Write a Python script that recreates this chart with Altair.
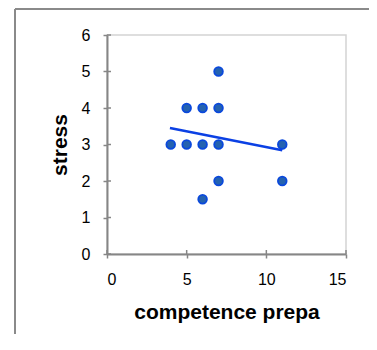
import altair as alt
import pandas as pd

# data
competence = [4, 5, 5, 6, 6, 6, 7, 7, 7, 7, 11, 11]
stress = [3, 4, 3, 4, 3, 1.5, 5, 4, 3, 2, 3, 2]

trend_x = [3.95, 11.0]
trend_y = [3.45, 2.84]

x_ticks = [0, 5, 10, 15]
y_ticks = [0, 1, 2, 3, 4, 5, 6]

W, H = 239, 219
PB = 80
PR = 23

pts = pd.DataFrame({"competence prepa": competence, "stress": stress})
trend = pd.DataFrame({"competence prepa": trend_x, "stress": trend_y})
xt = pd.DataFrame({"competence prepa": x_ticks})
yt = pd.DataFrame({"stress": y_ticks})

xscale = alt.Scale(domain=[0, 15], nice=False, zero=False)
yscale = alt.Scale(domain=[0, 6], nice=False, zero=False)
xaxis = alt.Axis(values=x_ticks, title="competence prepa")
yaxis = alt.Axis(values=y_ticks, title="stress")
XE = alt.X("competence prepa:Q", scale=xscale, axis=xaxis)
YE = alt.Y("stress:Q", scale=yscale, axis=yaxis)

FONT = "Liberation Sans"

one = pd.DataFrame({"a": [0]})
frame_left = alt.Chart(one).mark_rule(color="#8a8a8a", strokeWidth=2, clip=False).encode(
    x=alt.value(-92), y=alt.value(-26), y2=alt.value(H + PB)
)
frame_top = alt.Chart(one).mark_rule(color="#8a8a8a", strokeWidth=2, clip=False).encode(
    y=alt.value(-26), x=alt.value(-92), x2=alt.value(W + PR)
)

points = alt.Chart(pts).mark_point(
    filled=True, fill="#2462b0", stroke="#0a48dc", strokeWidth=1.8, size=75, opacity=1
).encode(x=XE, y=YE)

line = alt.Chart(trend).mark_line(color="#0b40e4", strokeWidth=2.5).encode(x=XE, y=YE)

xin = alt.Chart(xt).mark_rule(color="#868686", strokeWidth=1.5).encode(
    x=XE, y=alt.value(H), y2=alt.value(H - 4)
)
yin = alt.Chart(yt).mark_rule(color="#868686", strokeWidth=1.5).encode(
    y=YE, x=alt.value(0), x2=alt.value(4)
)

chart = alt.layer(frame_left, frame_top, points, xin, yin, line).properties(
    width=W, height=H,
    autosize=alt.AutoSizeParams(type="none"),
    padding={"left": 99, "top": 27, "right": PR, "bottom": PB},
).configure_view(
    stroke="#d4d4d4", strokeWidth=1.5
).configure_axis(
    grid=False,
    domainColor="#868686", domainWidth=2,
    tickColor="#868686", tickWidth=1.5, tickSize=4,
    labelFont=FONT, labelFontSize=16, labelColor="#000000", labelOverlap=False,
    titleFont=FONT, titleFontSize=21, titleFontWeight="bold", titleColor="#000000",
).configure_axisX(
    labelPadding=13, titlePadding=14, labelAngle=0
).configure_axisY(
    labelPadding=13, titlePadding=11
)

chart.save("out.html", embed_options={"renderer": "svg", "actions": False})
